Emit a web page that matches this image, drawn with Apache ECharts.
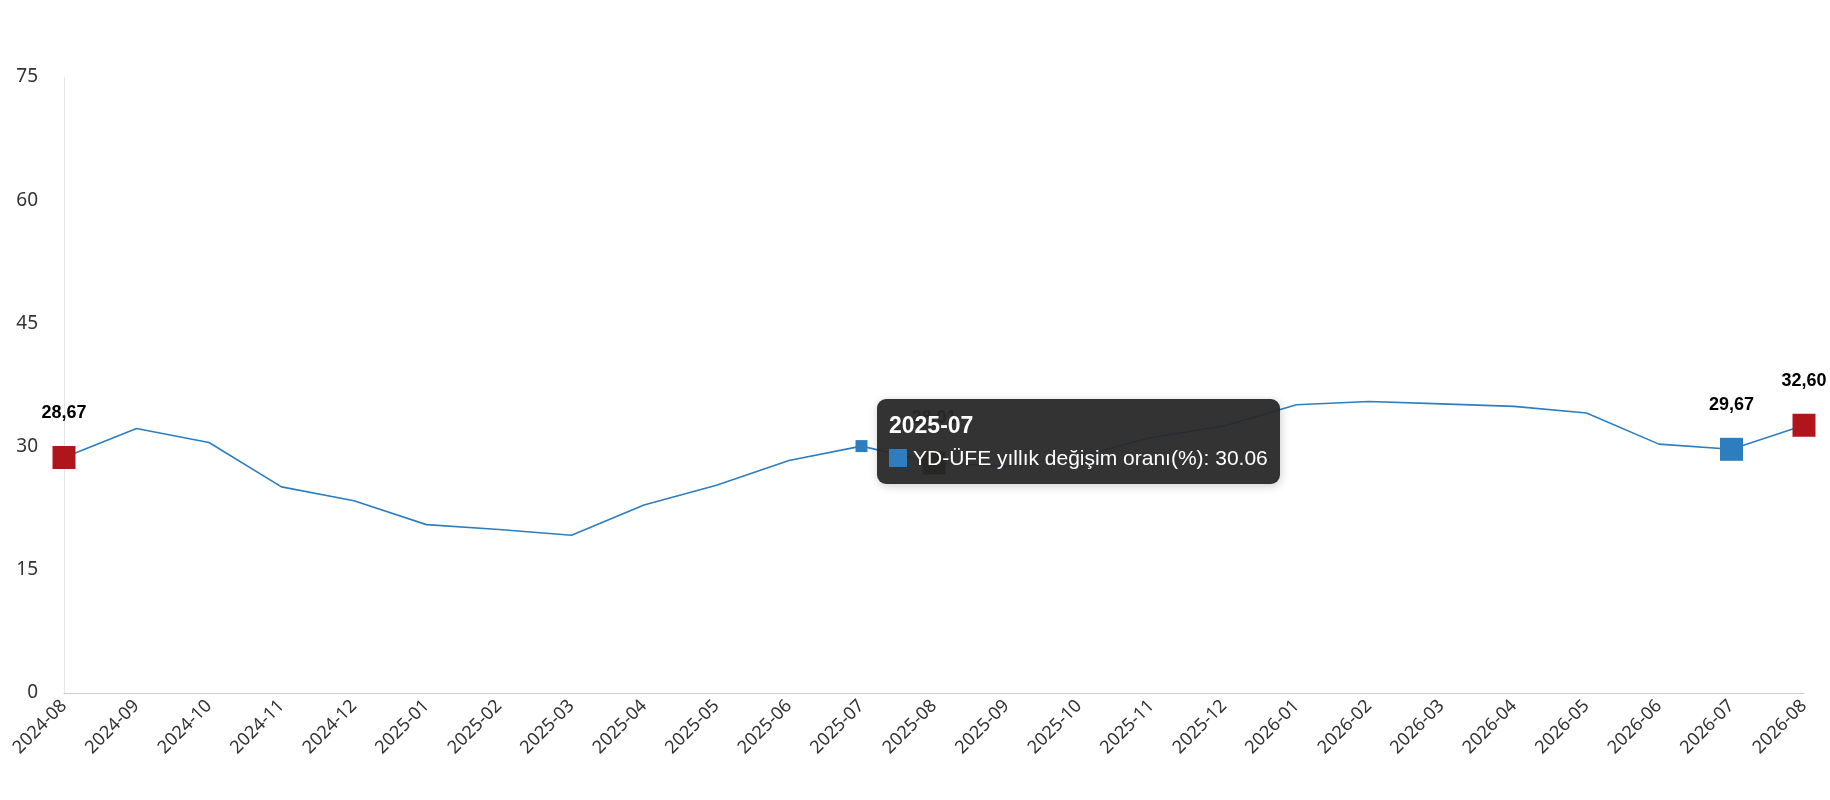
<!DOCTYPE html>
<html><head><meta charset="utf-8">
<script src="https://cdn.jsdelivr.net/npm/echarts@6/dist/echarts.min.js"></script>
<style>html,body{margin:0;padding:0;background:#fff}#c{width:1830px;height:800px}</style>
</head><body><div id="c"></div>
<script>
const categories = ["2024-08","2024-09","2024-10","2024-11","2024-12","2025-01","2025-02","2025-03","2025-04","2025-05","2025-06","2025-07","2025-08","2025-09","2025-10","2025-11","2025-12","2026-01","2026-02","2026-03","2026-04","2026-05","2026-06","2026-07","2026-08"];
const values = [28.67,32.2,30.5,25.1,23.4,20.5,19.9,19.2,22.9,25.3,28.3,30.06,28.01,27.6,28.8,31.1,32.5,35.1,35.5,35.2,34.9,34.1,30.3,29.67,32.60];
const redIdx = [0,12,24];
const blueIdx = [23];
const seriesName = "YD-ÜFE yıllık değişim oranı(%)";
const yTicks = {min:0,max:75,interval:15};

const data = values.map((v,i)=>{
  if(redIdx.includes(i)) return {value:v,symbol:'rect',symbolSize:23,itemStyle:{color:i===12?'#3a0a0a':'#b0151c'},label:{show:true}};
  if(blueIdx.includes(i)) return {value:v,symbol:'rect',symbolSize:23,itemStyle:{color:'#2e7ebf'},label:{show:true}};
  if(i===11) return {value:v,symbolSize:12};
  return {value:v,symbolSize:0};
});
const chart = echarts.init(document.getElementById('c'));
chart.setOption({
  animation:false,
  grid:{left:64,right:26,top:77,bottom:107},
  xAxis:{type:'category',data:categories,boundaryGap:false,
    axisLine:{lineStyle:{color:'#ccc'}},axisTick:{show:false},
    axisLabel:{rotate:45,color:'#333',fontSize:18,interval:0,margin:10,fontFamily:'Noto Sans'}},
  yAxis:{type:'value',min:yTicks.min,max:yTicks.max,interval:yTicks.interval,
    splitLine:{show:false},axisLine:{show:true,lineStyle:{color:'#e6e6e6'}},
    axisLabel:{color:'#333',fontSize:19,margin:26,fontFamily:'Noto Sans'}},
  tooltip:{trigger:'item',alwaysShowContent:true,backgroundColor:'rgba(40,40,40,0.95)',borderWidth:0,
    padding:[10,12],extraCssText:'border-radius:9px;',
    textStyle:{color:'#fff',fontSize:21,fontFamily:'Liberation Sans, Arial'},
    position:function(p){return [p[0]+15,p[1]-47];},
    formatter:function(p){return '<b style="font-size:23px">'+p.name+'</b><br/><span style="display:inline-block;width:18px;height:18px;background:#2e7ebf;margin-right:6px;vertical-align:-2px"></span>'+seriesName+': '+p.value.toFixed(2);}},
  series:[{name:seriesName,type:'line',data:data,symbol:'rect',showSymbol:true,
    itemStyle:{color:'#2e7ebf',opacity:1},
    lineStyle:{color:'#2e7ebf',width:1.6},
    label:{show:false,position:'top',distance:24,color:'#000',fontWeight:'bold',fontSize:18,fontFamily:'Liberation Sans, Arial',
      formatter:p=>p.value.toFixed(2).replace('.',',')},
    emphasis:{disabled:true}
  }]
});
setTimeout(()=>chart.dispatchAction({type:'showTip',seriesIndex:0,dataIndex:11}),50);
</script></body></html>
